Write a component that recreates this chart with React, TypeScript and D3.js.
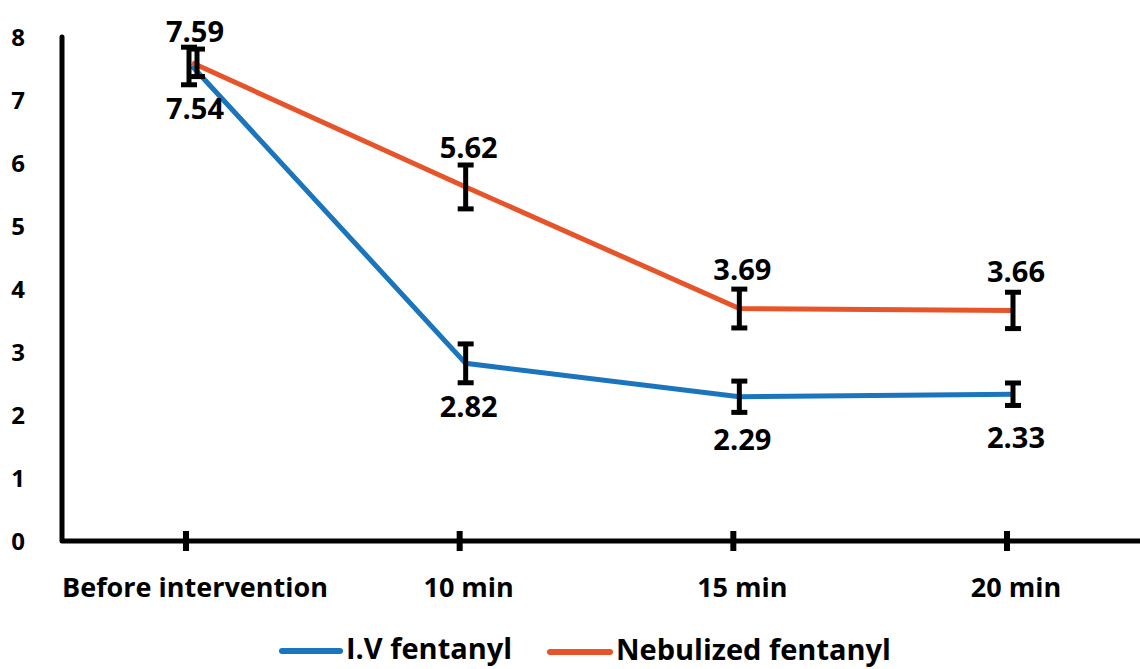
import React from 'react';
import * as d3 from 'd3';

const categories = ['Before intervention', '10 min', '15 min', '20 min'];
const ivValues = [7.54, 2.82, 2.29, 2.33];
const nebValues = [7.59, 5.62, 3.69, 3.66];
const ivErrors = [0.33, 0.34, 0.28, 0.21];
const nebErrors = [0.25, 0.38, 0.34, 0.32];
const yTicks = [0, 1, 2, 3, 4, 5, 6, 7, 8];

const W = 1140;
const H = 669;
const FONT = '"Open Sans", Lato, sans-serif';
const BLUE = '#1b75bc';
const ORANGE = '#e8542a';

const App = () => {
  const x = d3.scalePoint<string>().domain(categories).range([192, 1013]);
  const y = d3.scaleLinear().domain([0, 8]).range([541, 37]);

  const line = d3
    .line<number>()
    .x((_, i) => x(categories[i]) as number)
    .y((d) => y(d));

  const errBar = (cx: number, v: number, e: number, key: string) => {
    const top = y(v + e);
    const bot = y(v - e);
    return (
      <g key={key} stroke="#000" strokeLinecap="butt">
        <line x1={cx} x2={cx} y1={top} y2={bot} strokeWidth={5} />
        <line x1={cx - 8} x2={cx + 8} y1={top + 2} y2={top + 2} strokeWidth={5} />
        <line x1={cx - 8} x2={cx + 8} y1={bot - 2} y2={bot - 2} strokeWidth={5} />
      </g>
    );
  };

  return (
    <svg
      width={W}
      height={H}
      style={{ position: 'fixed', left: 0, top: 0, background: '#fff' }}
      fontFamily={FONT}
      fontWeight="bold"
    >
      {/* axes */}
      <path
        d={`M62,${y(8)} L62,${y(0)} L${W},${y(0)}`}
        fill="none"
        stroke="#000"
        strokeWidth={5}
        strokeLinejoin="round"
        strokeLinecap="round"
      />
      {categories.map((c) => (
        <line
          key={c}
          x1={(x(c) as number) - 6}
          x2={(x(c) as number) - 6}
          y1={y(0) - 10}
          y2={y(0) + 10}
          stroke="#000"
          strokeWidth={6}
        />
      ))}
      {yTicks.map((t) => (
        <text key={t} x={18} y={y(t)} dy="0.36em" textAnchor="middle" fontSize={24} fill="#000">
          {t}
        </text>
      ))}
      {categories.map((c) => (
        <text key={c} x={(x(c) as number) + 3} y={597} textAnchor="middle" fontSize={27} fill="#000">
          {c}
        </text>
      ))}

      {/* lines */}
      <path d={line(ivValues) || ''} fill="none" stroke={BLUE} strokeWidth={5} />
      <path d={line(nebValues) || ''} fill="none" stroke={ORANGE} strokeWidth={5} />

      {/* error bars */}
      {ivValues.map((v, i) => errBar((x(categories[i]) as number) + (i === 0 ? -3 : 0), v, ivErrors[i], `ie${i}`))}
      {nebValues.map((v, i) => errBar((x(categories[i]) as number) + (i === 0 ? 5 : 0), v, nebErrors[i], `ne${i}`))}

      {/* value labels */}
      {nebValues.map((v, i) => (
        <text
          key={`nl${i}`}
          x={(x(categories[i]) as number) + 3}
          y={y(v) - (i === 0 ? 31 : 39)}
          dy="0.36em"
          textAnchor="middle"
          fontSize={29}
          fill="#000"
        >
          {v.toFixed(2)}
        </text>
      ))}
      {ivValues.map((v, i) => (
        <text
          key={`il${i}`}
          x={(x(categories[i]) as number) + 3}
          y={y(v) + 43}
          dy="0.36em"
          textAnchor="middle"
          fontSize={29}
          fill="#000"
        >
          {v.toFixed(2)}
        </text>
      ))}

      {/* legend */}
      <line x1={282} x2={340} y1={651} y2={651} stroke={BLUE} strokeWidth={6} strokeLinecap="round" />
      <text x={346} y={659} fontSize={29} fill="#000">I.V fentanyl</text>
      <line x1={550} x2={610} y1={652} y2={652} stroke={ORANGE} strokeWidth={6} strokeLinecap="round" />
      <text x={616} y={660} fontSize={29} fill="#000">Nebulized fentanyl</text>
    </svg>
  );
};

export default App;
